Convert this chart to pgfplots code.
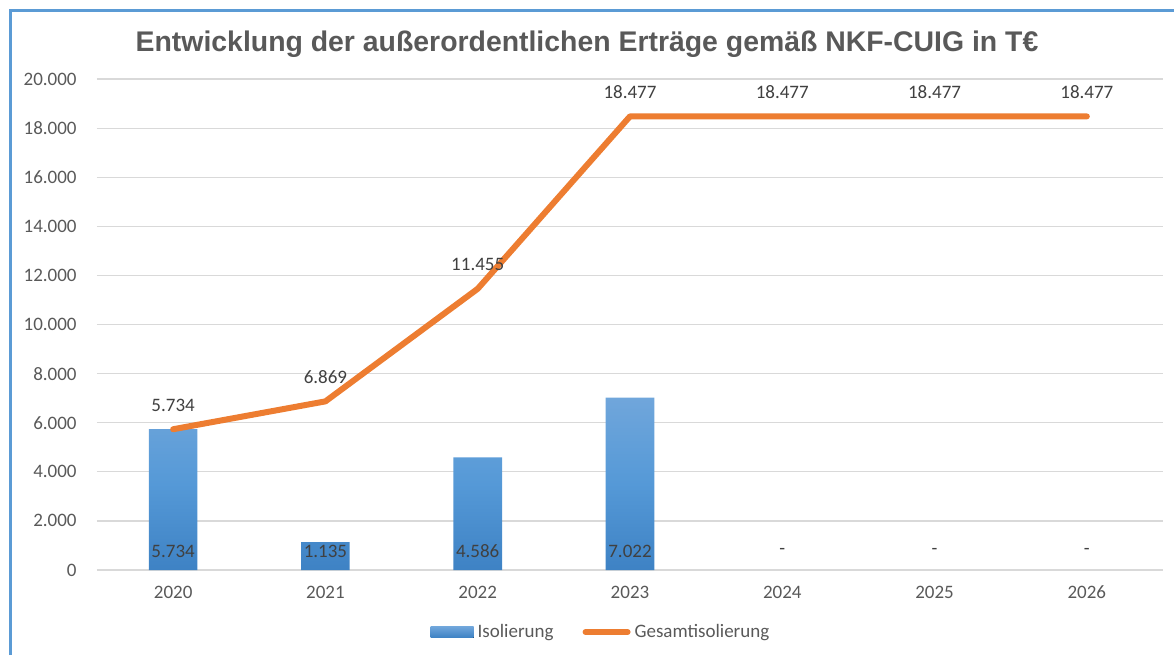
\documentclass[border=0pt]{standalone}
\usepackage{fontspec}
\setmainfont{Carlito}
\newfontfamily\titlefont{Liberation Sans}
\usepackage{pgfplots}
\pgfplotsset{compat=1.18}
\definecolor{gridgray}{HTML}{D9D9D9}
\definecolor{txtgray}{HTML}{595959}
\definecolor{lblgray}{HTML}{404040}
\definecolor{frameblue}{HTML}{5B9BD5}
\definecolor{lineorange}{HTML}{ED7D31}
\definecolor{bartop}{RGB}{112,166,219}
\definecolor{barmid}{RGB}{85,153,215}
\definecolor{barbot}{RGB}{62,130,196}
\newcommand\lblfont{\fontsize{9.5}{11}\selectfont}

\begin{document}
\begin{tikzpicture}
\useasboundingbox (0,0) rectangle (587pt,327.5pt);
\draw[frameblue, line width=1.5pt] (5.15pt,0) -- (5.15pt,322.25pt) -- (587pt,322.25pt);
\node[font=\titlefont\bfseries\fontsize{14.2}{16}\selectfont, text=txtgray]
  at (293.5pt,305.5pt) {Entwicklung der außerordentlichen Erträge gemäß NKF-CUIG in T€};
\begin{axis}[
  at={(48.5pt,42.5pt)}, anchor=south west,
  width=533pt, height=245.5pt, scale only axis,
  xmin=-0.5, xmax=6.5, ymin=0, ymax=20000,
  axis line style={draw=none},
  major tick length=0pt,
  scaled y ticks=false,
  xtick={0,...,6}, xticklabels={2020,2021,2022,2023,2024,2025,2026},
  ytick={0,2000,...,20000},
  yticklabels={0,2.000,4.000,6.000,8.000,10.000,12.000,14.000,16.000,18.000,20.000},
  tick label style={font=\lblfont, text=txtgray, inner sep=0pt},
  yticklabel style={anchor=east, xshift=-10pt},
  xticklabel style={anchor=center, yshift=-11pt},
  ymajorgrids, grid style={gridgray, line width=0.6pt},
  legend style={at={(0.4737,-0.1263)}, anchor=center, draw=none, fill=none,
    legend columns=2, font=\lblfont, text=txtgray,
    /tikz/every even column/.append style={column sep=12.5pt}},
]
\addplot[ybar, bar width=24.3pt, draw=none, top color=bartop, bottom color=barbot, middle color=barmid,
  legend image code/.code={\fill[top color=bartop, bottom color=barbot] (0pt,-2.75pt) rectangle (21.5pt,2.75pt);}]
  coordinates {(0,5734) (1,1135) (2,4586) (3,7022)};
\addlegendentry{Isolierung}
\addplot[lineorange, line width=3pt, line cap=round, line join=round, mark=none,
  legend image code/.code={\draw[lineorange, line width=3pt, line cap=round] (1.5pt,0pt) -- (22.5pt,0pt);}]
  coordinates {(0,5734) (1,6869) (2,11455) (3,18477) (4,18477) (5,18477) (6,18477)};
\addlegendentry{Gesamtisolierung}
% Datenbeschriftungen Balken
\addplot[draw=none, mark=none, forget plot, nodes near coords, point meta=explicit symbolic,
  nodes near coords align={anchor=center},
  nodes near coords style={yshift=9.5pt, font=\lblfont, text=lblgray, inner sep=0pt}]
  coordinates {(0,0)[5.734] (1,0)[1.135] (2,0)[4.586] (3,0)[7.022] (4,0)[-] (5,0)[-] (6,0)[-]};
% Datenbeschriftungen Linie
\addplot[draw=none, mark=none, forget plot, nodes near coords, point meta=explicit symbolic,
  nodes near coords align={anchor=center},
  nodes near coords style={yshift=12pt, font=\lblfont, text=lblgray, inner sep=0pt}]
  coordinates {(0,5734)[5.734] (1,6869)[6.869] (2,11455)[11.455] (3,18477)[18.477]
    (4,18477)[18.477] (5,18477)[18.477] (6,18477)[18.477]};
\end{axis}
\end{tikzpicture}
\end{document}
